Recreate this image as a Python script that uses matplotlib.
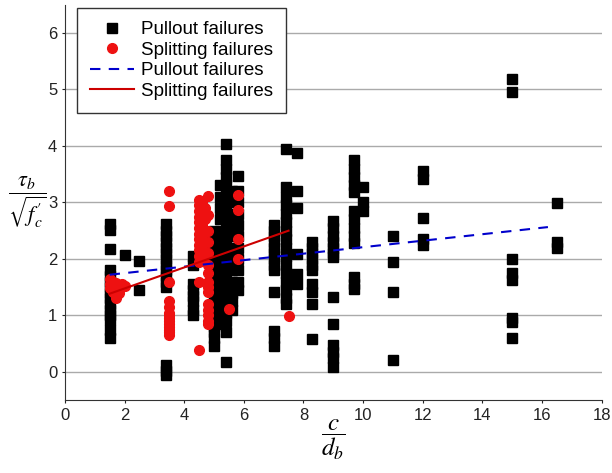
import matplotlib
matplotlib.use("Agg")
import matplotlib.pyplot as plt

plt.rcParams['font.family'] = ['Liberation Sans', 'DejaVu Sans']
plt.rcParams['mathtext.fontset'] = 'stix'

# Pullout failures: (c/d_b value, normalised bond stress values)
pullout_groups = [
    (1.5, [2.62, 2.52, 2.18, 1.8, 1.7, 1.6, 1.5, 1.4, 1.3, 1.2, 1.1, 1.0, 0.92, 0.75, 0.6]),
    (2.0, [2.07]),
    (2.5, [1.96, 1.45]),
    (3.4, [2.62, 2.5, 2.4, 2.3, 2.2, 2.1, 2.0, 1.9, 1.8, 1.7, 1.6, 1.5, 0.12, 0.02, -0.05]),
    (4.3, [2.05, 1.9, 1.55, 1.45, 1.35, 1.25, 1.1, 1.0]),
    (4.9, [2.4, 2.2, 2.0, 1.9, 1.8, 1.7, 1.6]),
    (5.0, [2.5, 2.35, 2.2, 2.1, 2.0, 1.9, 1.8, 1.7, 1.6, 1.5, 1.4, 1.3, 1.2, 1.1, 1.0, 0.9, 0.8, 0.7, 0.6, 0.45]),
    (5.2, [3.3, 3.1, 2.9, 2.7, 2.5, 2.35, 2.2, 2.05, 1.9, 1.75, 1.6, 1.45, 1.3, 1.15, 1.0, 0.85]),
    (5.4, [4.04, 3.75, 3.6, 3.45, 3.3, 3.15, 3.0, 2.85, 2.7, 2.55, 2.4, 2.25, 2.1, 1.95, 1.8, 1.65, 1.5, 1.35, 1.2, 1.05, 0.9, 0.7, 0.17]),
    (5.6, [3.2, 3.0, 2.8, 2.6, 2.4, 2.2, 2.0, 1.8, 1.6, 1.4, 1.25, 1.1]),
    (5.8, [3.47, 3.2, 3.0, 2.8, 2.6, 2.4, 2.2, 2.0, 1.8, 1.6, 1.45]),
    (7.0, [2.6, 2.5, 2.4, 2.3, 2.2, 2.1, 2.0, 1.9, 1.8, 1.41, 0.72, 0.6, 0.45]),
    (7.4, [3.95, 3.27, 3.1, 2.95, 2.8, 2.65, 2.5, 2.35, 2.2, 2.05, 1.9, 1.75, 1.6, 1.45, 1.3, 1.2]),
    (7.8, [3.88, 3.21, 2.9, 2.09, 1.73, 1.55]),
    (8.3, [2.3, 2.2, 2.1, 2.0, 1.9, 1.8, 1.55, 1.42, 1.2, 0.58]),
    (9.0, [2.68, 2.55, 2.4, 2.3, 2.2, 2.1, 2.03, 1.32, 0.85, 0.48, 0.35, 0.25, 0.08]),
    (9.7, [3.75, 3.6, 3.45, 3.3, 3.18, 2.85, 2.7, 2.55, 2.4, 2.28, 1.68, 1.55, 1.46]),
    (10.0, [3.27, 3.0, 2.85]),
    (11.0, [2.40, 1.94, 1.41, 0.21]),
    (12.0, [3.55, 3.42, 2.72, 2.35, 2.25]),
    (15.0, [5.18, 4.95, 2.0, 1.75, 1.62, 0.95, 0.88, 0.6]),
    (16.5, [2.99, 2.3, 2.2]),
]

# Splitting failures
splitting_groups = [
    (1.5, [1.65, 1.55, 1.48]),
    (1.6, [1.42, 1.6]),
    (1.7, [1.58, 1.3]),
    (1.8, [1.5, 1.4]),
    (1.9, [1.55]),
    (2.0, [1.52]),
    (3.5, [3.21, 2.94, 1.59, 1.25, 1.15, 1.05, 1.0, 0.95, 0.9, 0.85, 0.8, 0.75, 0.7, 0.65]),
    (4.5, [3.05, 2.95, 2.85, 2.75, 2.65, 2.55, 2.45, 2.35, 2.25, 2.15, 2.05, 1.95, 1.59, 0.39]),
    (4.6, [3.0, 2.8, 2.6, 2.4, 2.2, 2.0]),
    (4.7, [2.9, 2.7, 2.5, 2.3, 2.1]),
    (4.8, [3.12, 2.77, 2.5, 2.3, 2.1, 1.9, 1.75, 1.6, 1.5, 1.41, 1.2, 1.1, 1.0, 0.9, 0.85]),
    (5.5, [1.11]),
    (5.8, [3.13, 2.87, 2.35, 2.0]),
    (7.5, [0.99]),
]

# Linear trend lines: (x start, x end, intercept, slope)
pullout_fit = (1.5, 16.2, 1.634, 0.0574)
splitting_fit = (1.5, 7.5, 1.105, 0.186)

x_ticks = [0, 2, 4, 6, 8, 10, 12, 14, 16, 18]
y_ticks = [0, 1, 2, 3, 4, 5, 6]


def flatten(groups):
    xs, ys = [], []
    for xv, vals in groups:
        for v in vals:
            xs.append(xv)
            ys.append(v)
    return xs, ys


px, py = flatten(pullout_groups)
sx, sy = flatten(splitting_groups)

fig = plt.figure(figsize=(6.12, 4.73), dpi=100)
ax = fig.add_axes([0.106, 0.154, 0.877, 0.836])

ax.plot(px, py, linestyle='none', marker='s', markersize=7, color='black',
        label='Pullout failures')
ax.plot(sx, sy, linestyle='none', marker='o', markersize=7, color='#ee1111',
        label='Splitting failures')

x0, x1, b, m = pullout_fit
ax.plot([x0, x1], [b + m * x0, b + m * x1], linestyle=(0, (5, 4)), color='#0000cc',
        linewidth=1.5, label='Pullout failures')
x0, x1, b, m = splitting_fit
ax.plot([x0, x1], [b + m * x0, b + m * x1], linestyle='-', color='#cc0000',
        linewidth=1.5, label='Splitting failures')

ax.set_xlim(0, 18)
ax.set_ylim(-0.5, 6.5)
ax.set_xticks(x_ticks)
ax.set_yticks(y_ticks)
ax.tick_params(axis='both', labelsize=12, length=2, direction='out', colors='#222222')
ax.yaxis.grid(True, color='#aaaaaa', linewidth=1)
ax.set_axisbelow(True)
for side in ('top', 'right'):
    ax.spines[side].set_visible(False)
for side in ('left', 'bottom'):
    ax.spines[side].set_color('#333333')

leg = ax.legend(loc='upper left', bbox_to_anchor=(0.022, 0.992), borderaxespad=0,
                fontsize=13.5, frameon=True, fancybox=False, framealpha=1,
                edgecolor='#333333', handlelength=2.35, labelspacing=0.18,
                handletextpad=0.4, borderpad=0.7)
leg.get_frame().set_linewidth(1.0)

fig.text(0.045, 0.575, r'$\dfrac{\tau_b}{\sqrt{f_c^{\prime}}}$', fontsize=16,
         ha='center', va='center')
fig.text(0.544, 0.07, r'$\dfrac{c}{d_b}$', fontsize=18, ha='center', va='center')

fig.savefig('out.png', dpi=100)
